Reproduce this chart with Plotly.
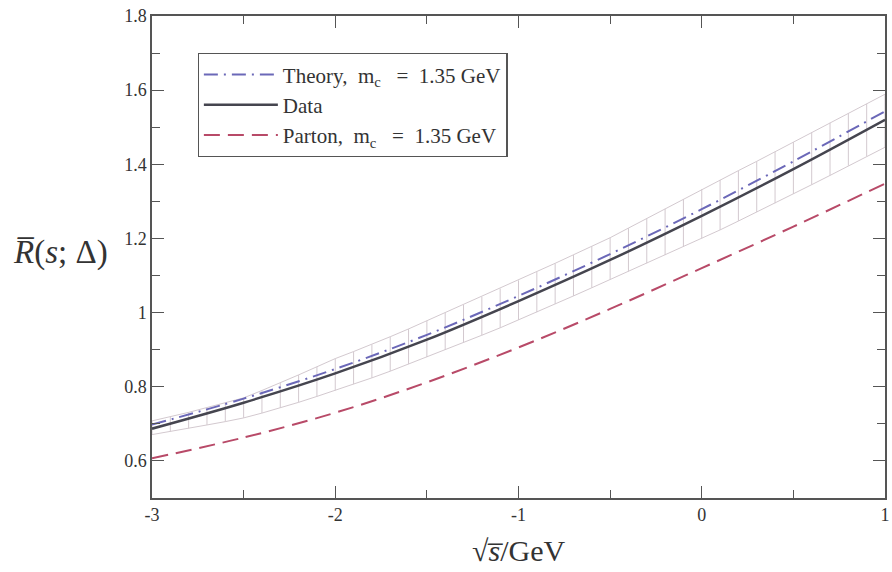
import plotly.graph_objects as go

# curves sampled every 0.5 GeV
x_curve = [-3.0, -2.5, -2.0, -1.5, -1.0, -0.5, 0.0, 0.5, 1.0]
theory = [0.698, 0.768, 0.848, 0.940, 1.045, 1.158, 1.279, 1.408, 1.543]
data = [0.687, 0.757, 0.836, 0.927, 1.031, 1.142, 1.261, 1.387, 1.520]
parton = [0.607, 0.663, 0.730, 0.812, 0.906, 1.010, 1.120, 1.232, 1.348]

# error band (boxes every 0.1)
x_band = [round(-3.0 + 0.1 * i, 1) for i in range(41)]
band_lo = [0.671, 0.679, 0.688, 0.697, 0.706, 0.716, 0.729, 0.743, 0.758, 0.774,
           0.790, 0.807, 0.824, 0.842, 0.861, 0.880, 0.899, 0.919, 0.939, 0.959,
           0.980, 1.001, 1.023, 1.045, 1.067, 1.089, 1.111, 1.133, 1.155, 1.177,
           1.200, 1.223, 1.247, 1.271, 1.295, 1.320, 1.345, 1.370, 1.396, 1.422,
           1.446]
band_hi = [0.708, 0.719, 0.731, 0.744, 0.757, 0.770, 0.790, 0.810, 0.832, 0.854,
           0.876, 0.895, 0.914, 0.935, 0.956, 0.978, 1.000, 1.021, 1.043, 1.065,
           1.087, 1.110, 1.133, 1.156, 1.179, 1.202, 1.228, 1.254, 1.280, 1.306,
           1.333, 1.358, 1.383, 1.408, 1.434, 1.460, 1.486, 1.512, 1.538, 1.563,
           1.589]

x_ticks = [-3, -2, -1, 0, 1]
x_ticktext = ["-3", "-2", "-1", "0", "1"]
y_ticks = [0.6, 0.8, 1.0, 1.2, 1.4, 1.6, 1.8]
y_ticktext = ["0.6", "0.8", "1", "1.2", "1.4", "1.6", "1.8"]

FONT = "Liberation Serif, Times New Roman, serif"
band_color = "#d3c9cf"
NB = "\u00a0"

fig = go.Figure()

# band outline
fig.add_trace(go.Scatter(x=x_band, y=band_hi, mode="lines",
                         line=dict(color=band_color, width=1), showlegend=False,
                         hoverinfo="skip"))
fig.add_trace(go.Scatter(x=x_band, y=band_lo, mode="lines",
                         line=dict(color=band_color, width=1), showlegend=False,
                         hoverinfo="skip"))
vx, vy = [], []
for xv, lo, hi in zip(x_band, band_lo, band_hi):
    vx += [xv, xv, None]
    vy += [lo, hi, None]
fig.add_trace(go.Scatter(x=vx, y=vy, mode="lines",
                         line=dict(color=band_color, width=1), showlegend=False,
                         hoverinfo="skip"))

mc_label = f"m<sub>c</sub>{NB}{NB} ={NB} 1.35 GeV"
fig.add_trace(go.Scatter(x=x_curve, y=theory, mode="lines", line_shape="spline",
                         name=f"Theory,{NB} " + mc_label,
                         line=dict(color="#6b68b8", width=2, dash="14px,6px,2px,6px")))
fig.add_trace(go.Scatter(x=x_curve, y=data, mode="lines", line_shape="spline",
                         name="Data",
                         line=dict(color="#45454f", width=2.5)))
fig.add_trace(go.Scatter(x=x_curve, y=parton, mode="lines", line_shape="spline",
                         name=f"Parton,{NB} " + mc_label,
                         line=dict(color="#b84a68", width=2, dash="16px,8px")))

axis_common = dict(
    showline=True, linecolor="#555", linewidth=1.5, mirror="ticks",
    ticks="inside", ticklen=12, tickwidth=1.2, tickcolor="#555",
    showgrid=False, zeroline=False, ticklabeloverflow="allow",
    tickfont=dict(family=FONT, size=18, color="#333"),
)

fig.update_xaxes(range=[-3, 1], tickvals=x_ticks, ticktext=x_ticktext,
                 minor=dict(dtick=0.5, tick0=-3, ticks="inside", ticklen=8,
                            tickcolor="#555", tickwidth=1.2, showgrid=False),
                 **axis_common)
fig.update_yaxes(range=[0.5, 1.8], tickvals=y_ticks, ticktext=y_ticktext,
                 minor=dict(dtick=0.1, tick0=0.5, ticks="inside", ticklen=8,
                            tickcolor="#555", tickwidth=1.2, showgrid=False),
                 **axis_common)

fig.add_annotation(text="<i>R̅</i>(<i>s</i>; Δ)", xref="paper", yref="paper",
                   x=-0.125, y=0.51, xanchor="center", yanchor="middle",
                   showarrow=False, font=dict(family=FONT, size=33, color="#333"))
fig.add_annotation(text="√<i>s̅</i>/GeV", xref="paper", yref="paper",
                   x=0.5, y=-0.108, xanchor="center", yanchor="middle",
                   showarrow=False, font=dict(family=FONT, size=30, color="#333"))

fig.update_layout(
    width=892, height=572, autosize=False,
    margin=dict(l=152, r=2, t=16, b=74),
    plot_bgcolor="white", paper_bgcolor="white",
    font=dict(family=FONT, color="#333"),
    legend=dict(x=0.0623, y=0.923, xanchor="left", yanchor="top",
                bordercolor="#555", borderwidth=1.2, bgcolor="white",
                font=dict(family=FONT, size=21, color="#333"),
                itemwidth=74, tracegroupgap=0),
)

fig.write_html("out.html", config={"displayModeBar": False},
               post_script="document.body.style.margin='0';"
                           "document.body.style.overflow='hidden';")
